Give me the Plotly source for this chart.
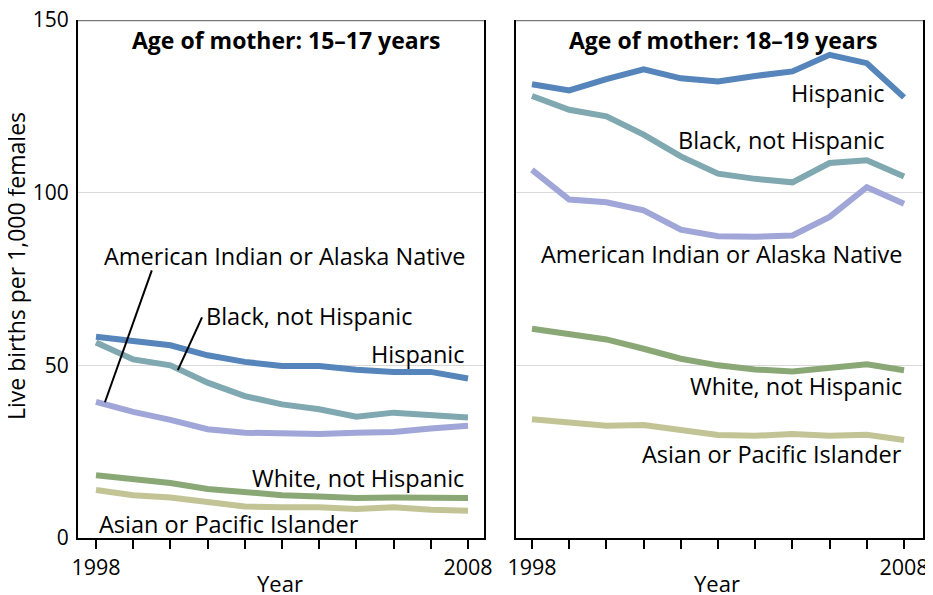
import plotly.graph_objects as go

years = list(range(1998, 2009))

# Age 15-17 (births per 1,000 females)
hisp_1517 = [58.3, 57.0, 55.8, 52.9, 51.0, 49.8, 49.8, 48.7, 48.1, 48.1, 46.2]
black_1517 = [56.6, 51.7, 50.0, 45.0, 41.1, 38.7, 37.3, 35.1, 36.3, 35.8, 34.9]
aian_1517 = [39.4, 36.5, 34.2, 31.5, 30.5, 30.3, 30.1, 30.5, 30.7, 31.7, 32.5]
white_1517 = [18.2, 17.1, 15.9, 14.2, 13.2, 12.4, 12.0, 11.6, 11.7, 11.7, 11.6]
asian_1517 = [13.9, 12.4, 11.7, 10.3, 9.1, 8.9, 8.9, 8.4, 8.9, 8.2, 7.9]

# Age 18-19
hisp_1819 = [131.4, 129.6, 132.9, 135.7, 133.1, 132.2, 133.8, 135.1, 139.9, 137.5, 127.6]
black_1819 = [128.0, 124.0, 122.1, 116.8, 110.5, 105.5, 104.0, 103.0, 108.6, 109.4, 104.7]
aian_1819 = [106.6, 98.0, 97.2, 94.9, 89.3, 87.4, 87.2, 87.6, 93.0, 101.6, 96.8]
white_1819 = [60.6, 59.2, 57.5, 54.8, 51.9, 50.0, 48.8, 48.2, 49.3, 50.3, 48.6]
asian_1819 = [34.4, 33.6, 32.5, 32.7, 31.3, 29.8, 29.6, 30.1, 29.6, 29.9, 28.4]

group_names = ["Asian or Pacific Islander", "White, not Hispanic",
               "American Indian or Alaska Native", "Black, not Hispanic", "Hispanic"]
colors = ["#C2C496", "#8AA876", "#A0A6D8", "#7FA8B0", "#5585BB"]

panels = [
    ("x", "y", [asian_1517, white_1517, aian_1517, black_1517, hisp_1517]),
    ("x2", "y2", [asian_1819, white_1819, aian_1819, black_1819, hisp_1819]),
]

FONT = "Open Sans"
W, H = 925, 587  # page body adds an 8px margin

fig = go.Figure()
for xa, ya, series in panels:
    for name, col, vals in zip(group_names, colors, series):
        fig.add_trace(go.Scatter(
            x=years, y=vals, xaxis=xa, yaxis=ya, mode="lines", name=name,
            line=dict(color=col, width=6), showlegend=False,
            hovertemplate=f"{name}<br>%{{x}}: %{{y:.1f}}<extra></extra>"
        ))

xtick_text = ["1998"] + [""] * 9 + ["2008"]
xcommon = dict(
    tickvals=years, ticktext=xtick_text, ticks="outside", ticklen=9, tickwidth=2,
    tickcolor="black", showline=True, linecolor="black", linewidth=2, mirror=False,
    showgrid=False, zeroline=False, automargin=False, ticklabeloverflow="allow",
    tickfont=dict(family=FONT, size=21.5, color="black"),
)
ycommon = dict(
    range=[0, 150], tickvals=[0, 50, 100, 150], ticks="", showline=True,
    linecolor="black", linewidth=2, mirror=True, showgrid=True,
    gridcolor="#d9d9d9", gridwidth=1, zeroline=False, automargin=False,
    ticklabeloverflow="allow", ticklabelstandoff=3,
    tickfont=dict(family=FONT, size=21, color="black"),
)

ydom = [1 - 530 / H, 1 - 12 / H]
fig.update_layout(
    width=W, height=H,
    margin=dict(l=0, r=0, t=0, b=0, autoexpand=False),
    paper_bgcolor="white", plot_bgcolor="white",
    xaxis=dict(domain=[70 / W, 476 / W], range=[1997.516, 2008.43], anchor="y", **xcommon),
    yaxis=dict(domain=ydom, anchor="x", showticklabels=True, **ycommon),
    xaxis2=dict(domain=[508 / W, 915 / W], range=[1997.57, 2008.51], anchor="y2", **xcommon),
    yaxis2=dict(domain=ydom, anchor="x2", showticklabels=False, **ycommon),
)

# grey top edge of each panel box
for s in ["", "2"]:
    fig.add_shape(type="line", xref=f"x{s} domain", yref=f"y{s}", x0=0, x1=1, y0=150, y1=150,
                  line=dict(color="#7a7a7a", width=2.5))

# panel titles
fig.add_annotation(x=2003.13, y=144.2, xref="x", yref="y", text="<b>Age of mother: 15–17 years</b>",
                   showarrow=False, font=dict(family=FONT, size=23, color="black"))
fig.add_annotation(x=2003.16, y=144.2, xref="x2", yref="y2", text="<b>Age of mother: 18–19 years</b>",
                   showarrow=False, font=dict(family=FONT, size=23, color="black"))

# direct labels: (text, x, y, xanchor, axis suffix)
labels = [
    ("American Indian or Alaska Native", 2007.97, 81.8, "right", ""),
    ("Black, not Hispanic", 2000.9, 64.2, "left", ""),
    ("Hispanic", 2007.97, 53.2, "right", ""),
    ("White, not Hispanic", 2007.95, 17.3, "right", ""),
    ("Asian or Pacific Islander", 1998.03, 4.0, "left", ""),
    ("Hispanic", 2007.54, 128.9, "right", "2"),
    ("Black, not Hispanic", 2007.54, 115.3, "right", "2"),
    ("American Indian or Alaska Native", 2008.0, 82.1, "right", "2"),
    ("White, not Hispanic", 2008.0, 43.9, "right", "2"),
    ("Asian or Pacific Islander", 2008.0, 24.3, "right", "2"),
]
for txt, lx, ly, anc, s in labels:
    fig.add_annotation(x=lx, y=ly, xref="x" + s, yref="y" + s, text=txt, showarrow=False,
                       xanchor=anc, yanchor="middle",
                       font=dict(family=FONT, size=23.5, color="black"))

# leader lines
fig.add_shape(type="line", xref="x", yref="y", x0=1999.5, y0=77.5, x1=1998.24, y1=39.3,
              line=dict(color="black", width=2))
fig.add_shape(type="line", xref="x", yref="y", x0=2000.85, y0=63.9, x1=2000.2, y1=48.6,
              line=dict(color="black", width=2))

# axis titles
fig.add_annotation(x=8 / W, y=1 - 258 / H, xref="paper", yref="paper",
                   text="Live births per 1,000 females", textangle=-90, showarrow=False,
                   xanchor="center", yanchor="middle",
                   font=dict(family=FONT, size=23, color="black"))
for xc in [272 / W, 709 / W]:
    fig.add_annotation(x=xc, y=1 - 575 / H, xref="paper", yref="paper", text="Year",
                       showarrow=False, xanchor="center", yanchor="middle",
                       font=dict(family=FONT, size=22, color="black"))

fig.write_html("out.html")
